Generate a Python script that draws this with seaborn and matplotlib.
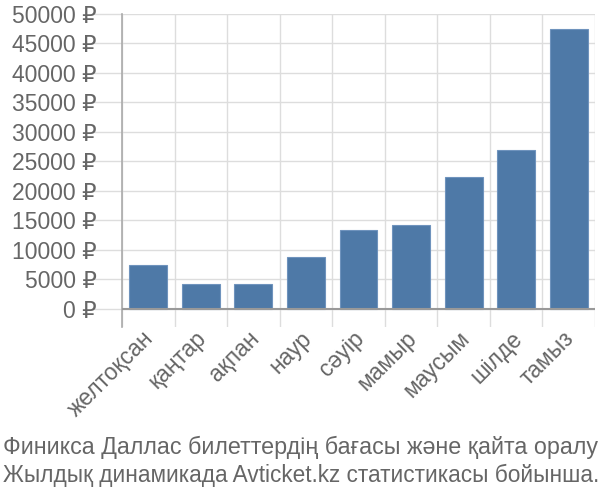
import matplotlib
matplotlib.use("Agg")
import matplotlib.pyplot as plt
import matplotlib.transforms as mtransforms
import seaborn as sns
import pandas as pd

months = ["желтоқсан", "қаңтар", "ақпан", "наур", "сәуір", "мамыр", "маусым", "шілде", "тамыз"]
prices = [7400, 4200, 4200, 8800, 13300, 14200, 22300, 26900, 47400]
yticks = [0, 5000, 10000, 15000, 20000, 25000, 30000, 35000, 40000, 45000, 50000]
caption = ["Финикса Даллас билеттердің бағасы және қайта оралу",
           "Жылдық динамикада Avticket.kz статистикасы бойынша."]

sns.set_theme(style="white")
plt.rcParams['font.family'] = ['Liberation Sans', 'DejaVu Sans']

df = pd.DataFrame({"month": months, "price": prices})
fig = plt.figure(figsize=(6, 5), dpi=100)
ax = fig.add_axes([122/600, 1-327/500, (595-122)/600, (327-14)/500])

sns.barplot(data=df, x="month", y="price", color="#4e79a7", saturation=1,
            width=0.72, edgecolor="#6f93bd", linewidth=0.8, ax=ax, zorder=3)

fs = 16.5
ax.set_ylim(-3100, 50000)
ax.set_xlim(-0.5, len(months) - 0.5)
ax.set_yticks(yticks)
ax.set_yticklabels([f"{v} ₽" for v in yticks], color="#666666", fontsize=fs)
ax.set_xticks(range(len(months)))
ax.set_xticklabels(months, rotation=45, ha="right", rotation_mode="anchor",
                   color="#666666", fontsize=fs)
ax.set_xticks([i - 0.5 for i in range(len(months) + 1)], minor=True)
ax.tick_params(axis="y", which="major", length=20, color="#dddddd", width=1, pad=-2, left=True)
ax.tick_params(axis="x", which="major", length=0, pad=2)
ax.tick_params(axis="x", which="minor", length=0)
ax.grid(axis="y", which="major", color="#dddddd", lw=1, zorder=0)
ax.grid(axis="x", which="minor", color="#dddddd", lw=1, zorder=0)
ax.axhline(0, color="#999999", lw=1.5, zorder=4)
for s in ["top", "right", "bottom"]:
    ax.spines[s].set_visible(False)
ax.spines["left"].set_color("#aaaaaa")
ax.spines["left"].set_linewidth(1.2)
ax.set_xlabel("")
ax.set_ylabel("")

offset = mtransforms.ScaledTranslation(-6/100, 3/100, fig.dpi_scale_trans)
for lbl in ax.get_xticklabels():
    lbl.set_transform(lbl.get_transform() + offset)

fig.canvas.draw()
renderer = fig.canvas.get_renderer()
for line, ypix in zip(caption, [447, 475]):
    t = fig.text(3/600, 1-ypix/500, line, color="#666666", fontsize=fs, va="center", ha="left")
    w = t.get_window_extent(renderer).width
    t.set_fontsize(fs * 594 / w)

fig.savefig("out.png", dpi=100)
